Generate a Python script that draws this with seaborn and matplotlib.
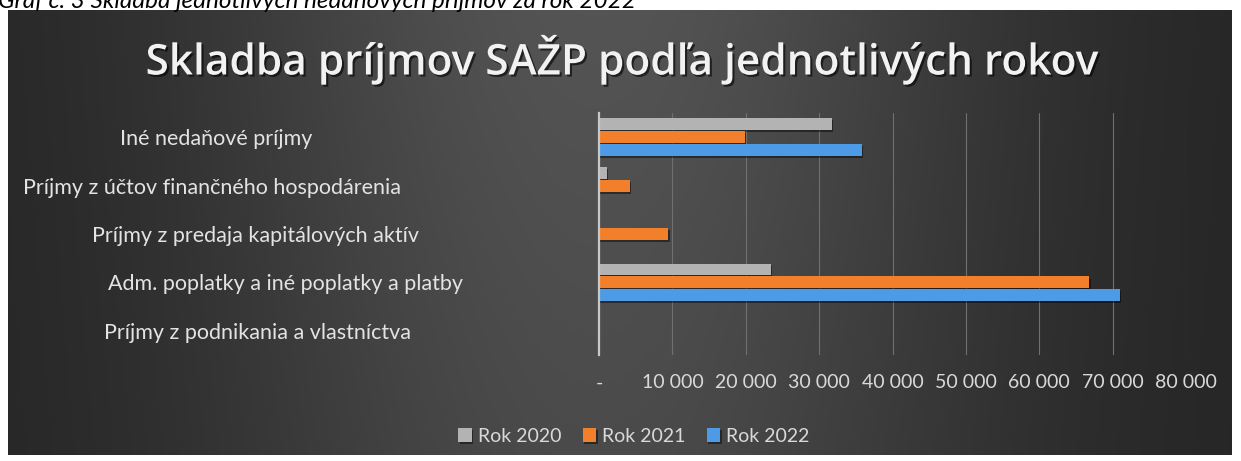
import numpy as np
import pandas as pd
import matplotlib
matplotlib.use('Agg')
import matplotlib.pyplot as plt
import matplotlib.ticker as mtick
import matplotlib.patheffects as pe
import seaborn as sns

sns.set_style('white')
plt.rcParams['font.family'] = ['Lato', 'DejaVu Sans']

# data
kategorie = ['Iné nedaňové príjmy',
             'Príjmy z účtov finančného hospodárenia',
             'Príjmy z predaja kapitálových aktív',
             'Adm. poplatky a iné poplatky a platby',
             'Príjmy z podnikania a vlastníctva']
roky = ['Rok 2020', 'Rok 2021', 'Rok 2022']
rok_2020 = [31700, 1100, 0, 23400, 0]
rok_2021 = [19900, 4200, 9450, 66800, 0]
rok_2022 = [35800, 0, 0, 71000, 0]
x_ticks = [0, 10000, 20000, 30000, 40000, 50000, 60000, 70000, 80000]

farby = ['#b3b3b3', '#f27f2a', '#4d9be6']
# horizontal centre (px) of each category label, as placed in the original
label_px = [216, 212, 255, 285, 258]

df = pd.DataFrame({
    'kategoria': kategorie * 3,
    'rok': [r for r in roky for _ in kategorie],
    'hodnota': rok_2020 + rok_2021 + rok_2022,
})

W, H = 1241, 461
fig = plt.figure(figsize=(W / 100, H / 100), dpi=100)

#__ dark gradient panel __
bg = fig.add_axes([8 / W, 6 / H, 1224 / W, 445 / H])
xx = np.linspace(0, 1, 400)
yy = np.linspace(0, 1, 150)
X, Y = np.meshgrid(xx, yy)
shade = 0.14 + 0.19 * np.exp(-((X - 0.48) / 0.33) ** 2) * (1 - 0.2 * Y)
bg.imshow(np.dstack([shade] * 3), aspect='auto', extent=[0, 1, 0, 1], interpolation='bilinear')
bg.set_axis_off()

#__ main chart __
ax = fig.add_axes([599 / W, (H - 355) / H, 587 / W, 242 / H])
ax.set_facecolor('none')
sns.barplot(data=df, y='kategoria', x='hodnota', hue='rok', orient='h',
            order=kategorie, hue_order=roky, palette=farby, saturation=1,
            width=0.8, gap=0.08, linewidth=0, ax=ax)
for bar in ax.patches:
    bar.set_path_effects([pe.withSimplePatchShadow(offset=(1, -1.5), shadow_rgbFace='black', alpha=0.45),
                          pe.Normal()])

ax.set_xlim(0, 80000)
ax.set_xticks(x_ticks)
ax.xaxis.set_major_formatter(mtick.FuncFormatter(
    lambda v, p: '-' if v == 0 else f'{int(v):,}'.replace(',', ' ')))
ax.xaxis.grid(True, color='#707070', lw=0.8)
ax.set_axisbelow(True)
for s in ['top', 'right', 'bottom']:
    ax.spines[s].set_visible(False)
ax.spines['left'].set_color('#c8c8c8')
ax.spines['left'].set_linewidth(1.6)
ax.spines['left'].set_zorder(5)
ax.set_xlabel('')
ax.set_ylabel('')
ax.tick_params(axis='x', length=0, pad=14, labelsize=14, labelcolor='#d9d9d9')
ax.tick_params(axis='y', length=0, pad=0, labelsize=15.5, labelcolor='#e3e3e3')

ax.set_yticks(range(len(kategorie)))
ax.set_yticklabels(kategorie)
for lab, px in zip(ax.get_yticklabels(), label_px):
    lab.set_horizontalalignment('center')
    lab.set_x((px - 599) / 587)

h, l = ax.get_legend_handles_labels()
ax.get_legend().remove()
fig.legend(h, l, loc='center', bbox_to_anchor=(634 / W, (H - 436) / H), ncol=3,
           frameon=False, fontsize=14, labelcolor='#d9d9d9',
           handlelength=0.7, handleheight=0.7, handletextpad=0.3,
           columnspacing=1.1)

fig.text(622 / W, 1 - 60 / H, 'Skladba príjmov SAŽP podľa jednotlivých rokov',
         ha='center', va='center', fontsize=30.5, fontweight='semibold', color='#f2f2f2',
         family=['Open Sans', 'DejaVu Sans'],
         path_effects=[pe.withSimplePatchShadow(offset=(1.5, -1.5), shadow_rgbFace='black', alpha=0.6)])

# caption of the document, cut off at the top edge
fig.text(-0.002, 1 - 8 / H, 'Graf č. 3 Skladba jednotlivých nedaňových príjmov za rok 2022',
         ha='left', va='baseline', fontsize=17.5, style='italic', color='black')

fig.savefig('out.png', dpi=100, facecolor='white')
